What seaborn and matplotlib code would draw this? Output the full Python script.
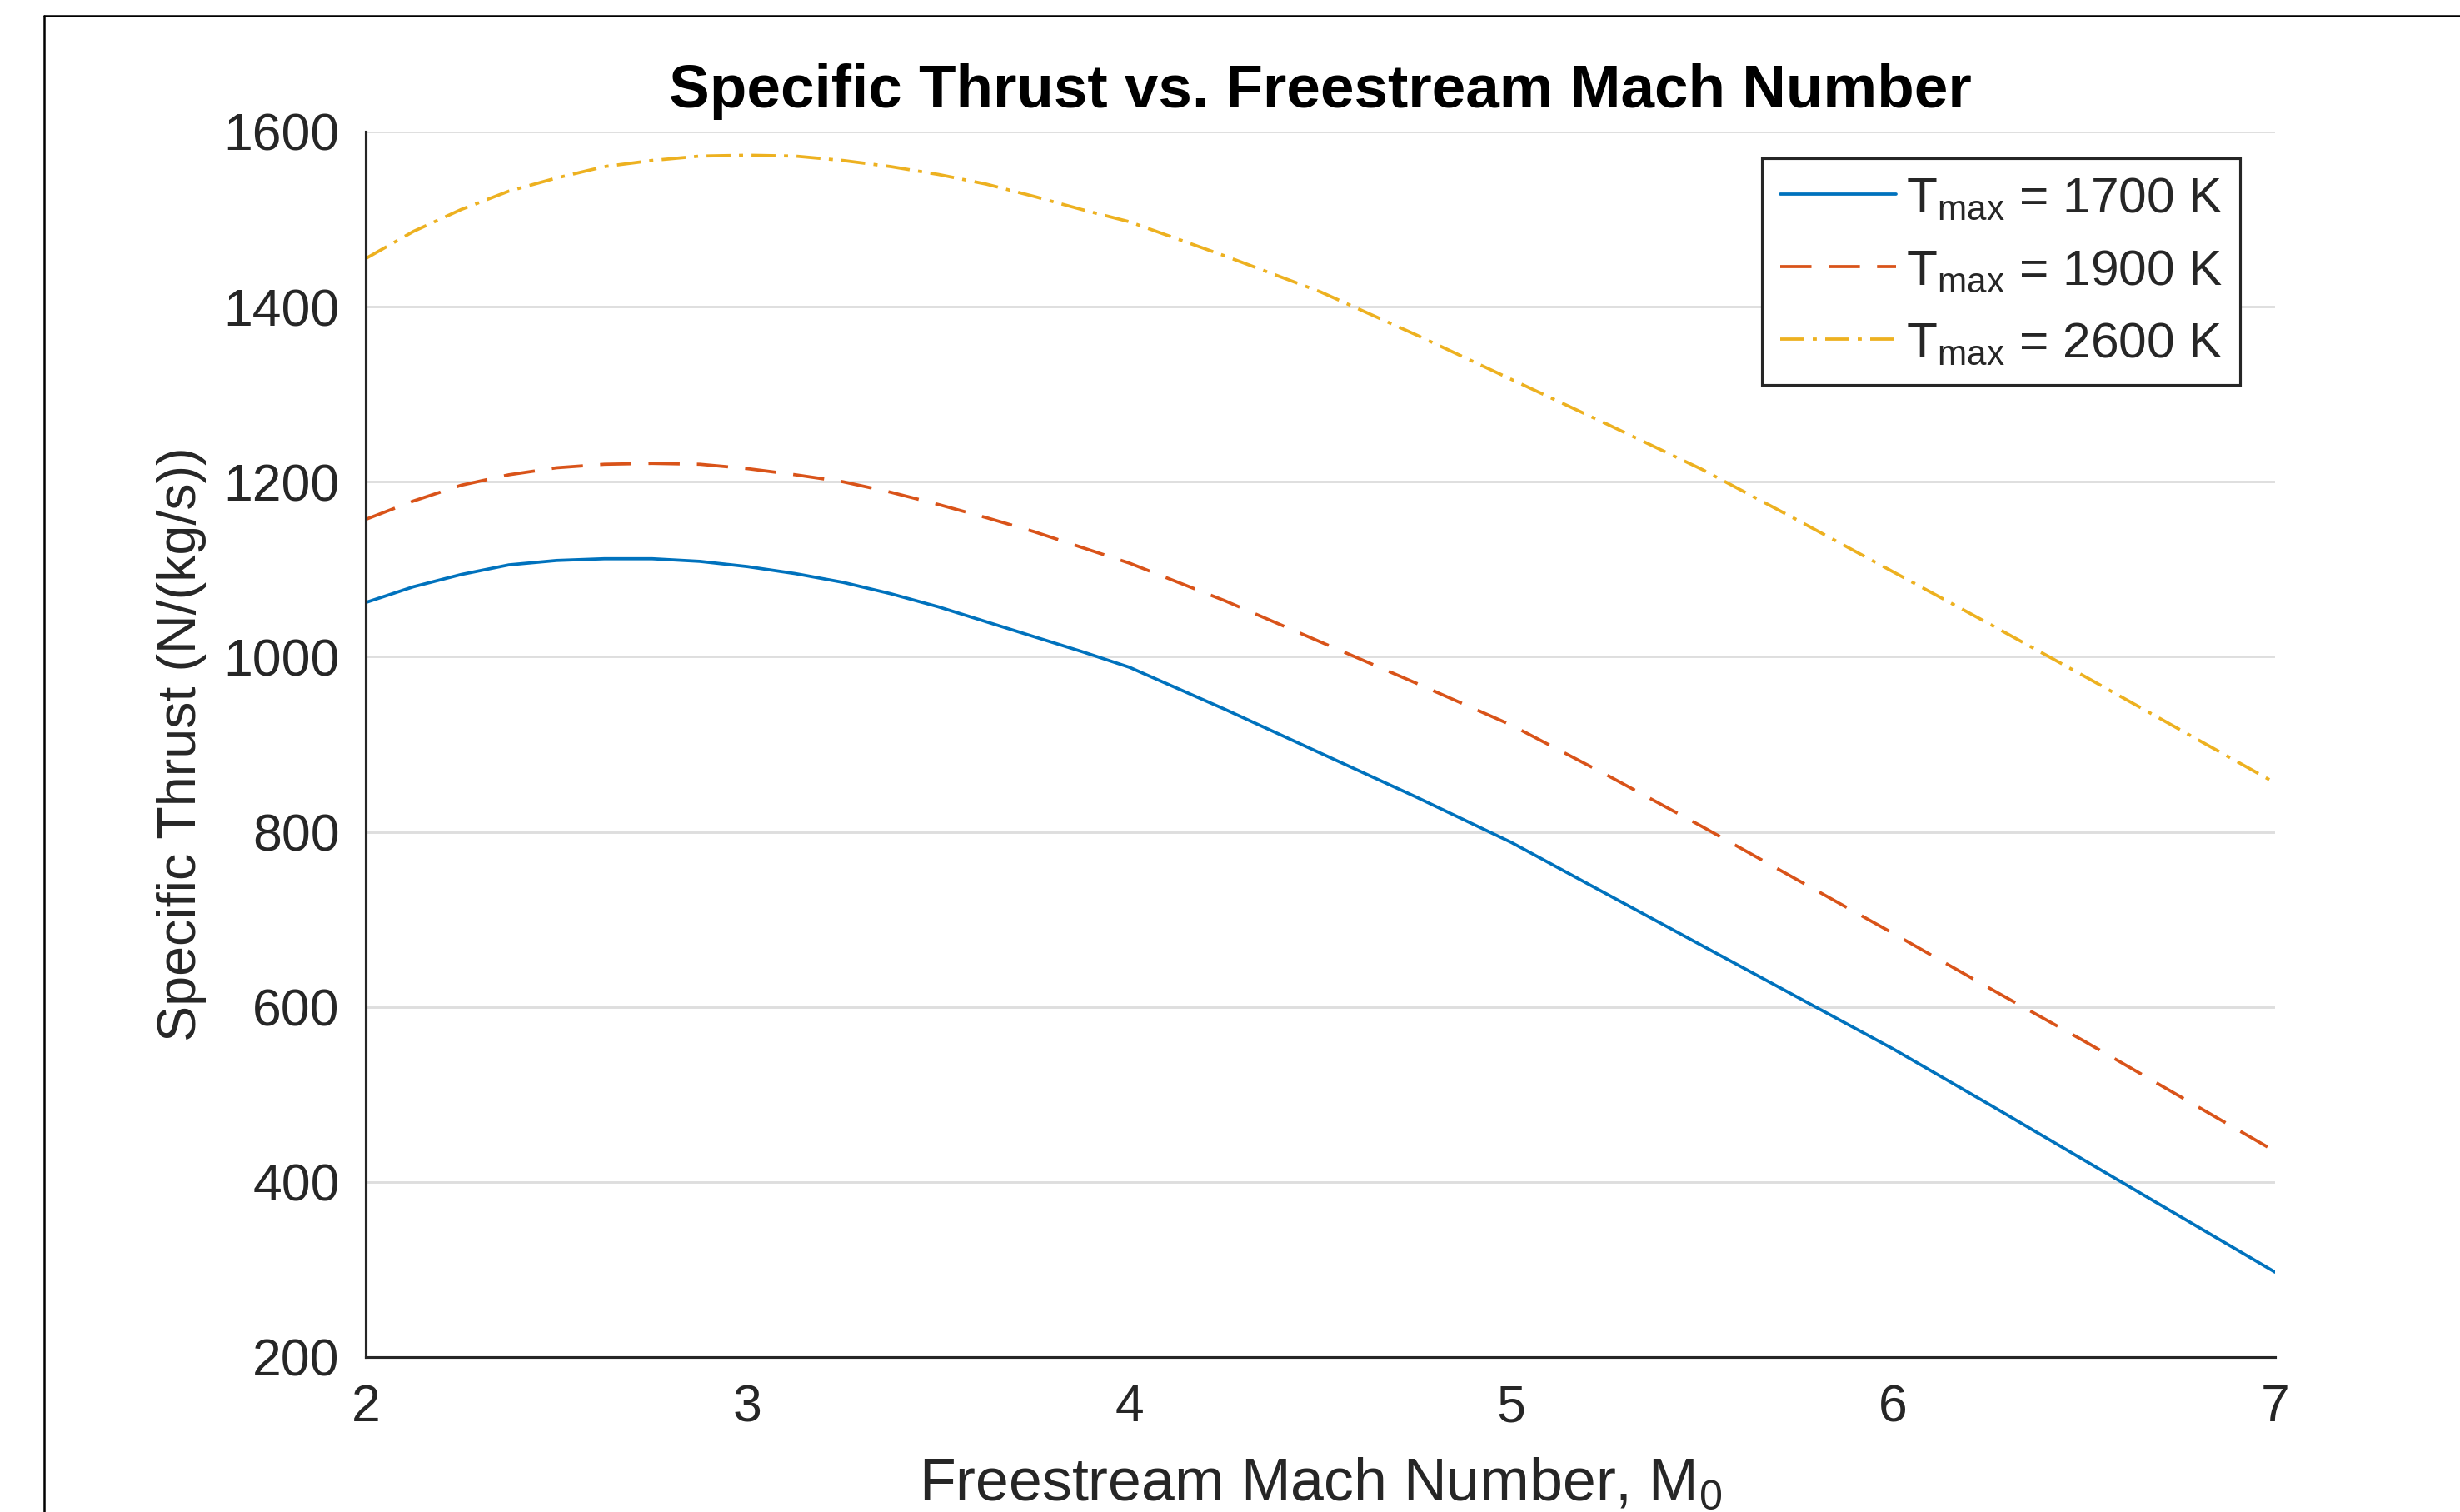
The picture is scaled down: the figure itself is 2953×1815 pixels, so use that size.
import numpy as np
import pandas as pd
import seaborn as sns
import matplotlib.pyplot as plt
from matplotlib.lines import Line2D

# Freestream Mach number and specific thrust (N/(kg/s))
mach = [2.0, 2.125, 2.25, 2.375, 2.5, 2.625, 2.75, 2.875, 3.0, 3.125, 3.25,
        3.375, 3.5, 3.625, 3.75, 3.875, 4.0, 4.25, 4.5, 4.75, 5.0, 5.25,
        5.5, 5.75, 6.0, 6.25, 6.5, 6.75, 7.0]
thrust_1700 = [1062, 1080, 1094, 1105, 1110, 1112, 1112, 1109, 1103, 1095, 1085,
               1072, 1057, 1040, 1023, 1006, 988, 940, 890, 840, 788, 729,
               670, 611, 552, 489, 425, 361, 297]
thrust_1900 = [1157, 1178, 1196, 1208, 1216, 1220, 1221, 1220, 1215, 1208, 1200,
               1188, 1174, 1159, 1143, 1125, 1107, 1064, 1017, 970, 922, 865,
               806, 745, 684, 622, 561, 498, 435]
thrust_2600 = [1455, 1486, 1511, 1532, 1547, 1560, 1567, 1572, 1573, 1572, 1567,
               1560, 1551, 1540, 1526, 1511, 1497, 1458, 1417, 1368, 1317, 1266,
               1214, 1156, 1097, 1038, 978, 917, 856]

labels = [r"$\mathregular{T_{max}}$ = 1700 K",
          r"$\mathregular{T_{max}}$ = 1900 K",
          r"$\mathregular{T_{max}}$ = 2600 K"]
x_ticks = [2, 3, 4, 5, 6, 7]
y_ticks = [200, 400, 600, 800, 1000, 1200, 1400, 1600]

df = pd.concat([
    pd.DataFrame({"mach": mach, "thrust": vals, "case": lab})
    for vals, lab in zip([thrust_1700, thrust_1900, thrust_2600], labels)
])

sns.set_theme(style="white")
plt.rcParams["font.family"] = ["Liberation Sans", "DejaVu Sans"]
plt.rcParams["mathtext.fontset"] = "custom"
plt.rcParams["mathtext.rm"] = "Liberation Sans"
plt.rcParams["axes.unicode_minus"] = False

dark = "#262626"
palette = {labels[0]: "#0072BD", labels[1]: "#D95319", labels[2]: "#EDB120"}
dashes = {labels[0]: "", labels[1]: (10, 5.5), labels[2]: (7.7, 2.7, 1.3, 2.7)}

fig = plt.figure(figsize=(2953 / 300, 1815 / 300), dpi=300)
ax = fig.add_axes([0.14866, 0.10248, 0.77616, 0.81047])

sns.lineplot(data=df, x="mach", y="thrust", hue="case", style="case",
             hue_order=labels, style_order=labels, palette=palette,
             dashes=dashes, linewidth=0.9, legend=False, ax=ax)

ax.set_xlim(2, 7)
ax.set_ylim(200, 1600)
ax.set_xticks(x_ticks)
ax.set_yticks(y_ticks)
ax.yaxis.grid(True, color="#dedede", linewidth=0.7)
ax.xaxis.grid(False)
ax.set_axisbelow(True)
for side in ["top", "right"]:
    ax.spines[side].set_visible(False)
for side in ["left", "bottom"]:
    ax.spines[side].set_color(dark)
    ax.spines[side].set_linewidth(0.75)
ax.tick_params(direction="in", length=4.8, width=0.6, color=dark,
               labelcolor=dark, labelsize=15, pad=7.5)

ax.set_title("Specific Thrust vs. Freestream Mach Number", fontsize=17.5,
             fontweight="bold", color="black", pad=7)
ax.set_xlabel(r"Freestream Mach Number, M$_{\mathregular{0}}$", fontsize=17.2,
              color=dark, labelpad=7)
ax.set_ylabel("Specific Thrust (N/(kg/s))", fontsize=15.5, color=dark, labelpad=5)

ax.legend(ax.get_lines(), labels, loc="upper right",
          bbox_to_anchor=(0.9817, 0.978), borderaxespad=0, fontsize=14.5,
          frameon=True, fancybox=False, framealpha=1, edgecolor=dark,
          handlelength=2.3, handletextpad=0.2, labelspacing=0.53,
          borderpad=0.35)
ax.get_legend().get_frame().set_linewidth(0.75)

# outer figure border, cut off on the right and bottom like the reference
fx, fy = 53 / 2953, 1 - 19 / 1815
fig.add_artist(Line2D([fx, fx], [-0.05, fy], transform=fig.transFigure,
                      color="black", linewidth=0.6))
fig.add_artist(Line2D([fx, 1.05], [fy, fy], transform=fig.transFigure,
                      color="black", linewidth=0.6))

fig.savefig("out.png", dpi=300)
